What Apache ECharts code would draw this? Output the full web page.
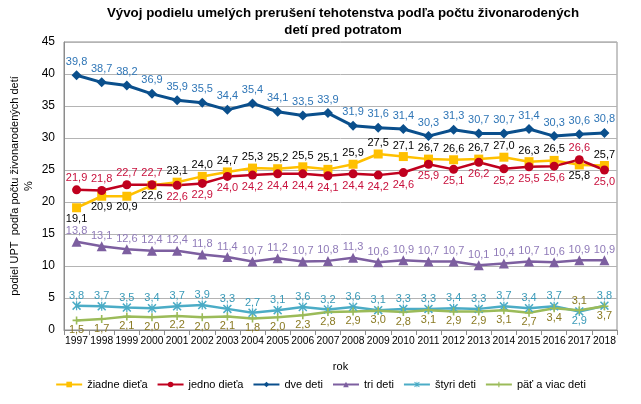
<!DOCTYPE html>
<html><head><meta charset="utf-8">
<script src="https://cdn.jsdelivr.net/npm/echarts@6/dist/echarts.min.js"></script>
<style>html,body{margin:0;padding:0;background:#fff}#c{width:641px;height:404px}</style>
</head><body><div id="c"></div>
<script>
const years = ['1997','1998','1999','2000','2001','2002','2003','2004','2005','2006','2007','2008','2009','2010','2011','2012','2013','2014','2015','2016','2017','2018'];
const ziadne = [19.1,20.9,20.9,22.6,23.1,24.0,24.7,25.3,25.2,25.5,25.1,25.9,27.5,27.1,26.7,26.6,26.7,27.0,26.3,26.5,25.8,25.7];
const jedno  = [21.9,21.8,22.7,22.7,22.6,22.9,24.0,24.2,24.4,24.4,24.1,24.4,24.2,24.6,25.9,25.1,26.2,25.2,25.5,25.6,26.6,25.0];
const dve    = [39.8,38.7,38.2,36.9,35.9,35.5,34.4,35.4,34.1,33.5,33.9,31.9,31.6,31.4,30.3,31.3,30.7,30.7,31.4,30.3,30.6,30.8];
const tri    = [13.8,13.1,12.6,12.4,12.4,11.8,11.4,10.7,11.2,10.7,10.8,11.3,10.6,10.9,10.7,10.7,10.1,10.4,10.7,10.6,10.9,10.9];
const styri  = [3.8,3.7,3.5,3.4,3.7,3.9,3.3,2.7,3.1,3.6,3.2,3.6,3.1,3.3,3.3,3.4,3.3,3.7,3.4,3.7,2.9,3.8];
const pat    = [1.5,1.7,2.1,2.0,2.2,2.0,2.1,1.8,2.0,2.3,2.8,2.9,3.0,2.8,3.1,2.9,2.9,3.1,2.7,3.4,3.1,3.7];

// label placement (style only): 't' = top, 'b' = bottom, one char per year
const posZiadne = 'bbbbttttttttttttttttbt';
const posJedno  = 'ttttbbbbbbbbbbbbbbbbtb';
const posDve    = 'tttttttttttttttttttttt';
const posTri    = 'tttttttttttttttttttttt';
const posStyri  = 'ttttttttttttttttttttbt';
const posPat    = 'bbbbbbbbbbbbbbbbbbbbtb';

const fmt = v => v.toFixed(1).replace('.', ',');
const FONT = 'Liberation Sans, Arial, sans-serif';

function mk(name, vals, color, labelColor, symbol, size, pos, lw, dist) {
  return {
    name, type: 'line',
    data: vals.map((v,i)=>({value: v, label: {position: pos[i]==='b'?'bottom':'top'}})),
    symbol, symbolSize: size,
    lineStyle: {color, width: lw},
    itemStyle: {color},
    label: {show: true, formatter: p => fmt(p.value), color: labelColor, fontSize: 11, fontFamily: FONT, distance: dist},
    z: 3
  };
}

const xStar = 'path://M0,1.2L1.2,0L5,3.8L8.8,0L10,1.2L6.2,5L10,8.8L8.8,10L5,6.2L1.2,10L0,8.8L3.8,5Z M4.3,0H5.7V10H4.3Z';
const plus = 'path://M4,0H6V4H10V6H6V10H4V6H0V4H4Z';

const chart = echarts.init(document.getElementById('c'), null, {renderer: 'canvas'});
chart.setOption({
  animation: false,
  backgroundColor: '#fff',
  title: {
    text: 'Vývoj podielu umelých prerušení tehotenstva podľa počtu živonarodených\ndetí pred potratom',
    left: 338, top: 0, textAlign: 'center',
    textStyle: {fontSize: 13.3, fontWeight: 'bold', fontFamily: FONT, color: '#000', lineHeight: 17}
  },
  grid: {left: 64, right: 24, top: 42, bottom: 74, show: true, borderColor: '#8c8c8c', borderWidth: 1},
  xAxis: {
    type: 'category', data: years, boundaryGap: true,
    name: 'rok', nameLocation: 'middle', nameGap: 31,
    nameTextStyle: {fontSize: 11, fontFamily: FONT, color: '#000'},
    axisLine: {lineStyle: {color: '#8c8c8c'}},
    axisTick: {show: true, length: 5, lineStyle: {color: '#8c8c8c'}},
    axisLabel: {fontSize: 10.3, fontFamily: FONT, color: '#000', interval: 0, margin: 6}
  },
  yAxis: {
    type: 'value', min: 0, max: 45, interval: 5,
    axisLine: {show: true, lineStyle: {color: '#8c8c8c'}},
    axisTick: {show: false},
    axisLabel: {fontSize: 12, fontFamily: FONT, color: '#000', margin: 9},
    splitLine: {lineStyle: {color: '#b4b4b4'}}
  },
  graphic: [{
    type: 'text', x: 22, y: 186, rotation: Math.PI/2,
    style: {text: 'podiel UPT  podľa počtu živonarodených detí\n%', fontSize: 11, fontFamily: FONT, fill: '#000',
            align: 'center', verticalAlign: 'middle', lineHeight: 14}
  }],
  legend: {
    bottom: 9, left: 'center', itemWidth: 26, itemHeight: 7, itemGap: 9,
    textStyle: {fontSize: 11, fontFamily: FONT, color: '#000'},
    data: ['žiadne dieťa','jedno dieťa','dve deti','tri deti','štyri deti','päť a viac deti']
  },
  series: [
    mk('žiadne dieťa', ziadne, '#FFC000', '#000', 'rect', 9, posZiadne, 2.5, 1),
    mk('jedno dieťa', jedno, '#C0001E', '#C8103C', 'circle', 9, posJedno, 2.5, 2),
    mk('dve deti', dve, '#0A4F8C', '#2E75B6', 'diamond', 10, posDve, 3, 3),
    mk('tri deti', tri, '#7D5FA0', '#8F7AB8', 'triangle', 10, posTri, 2.5, 0),
    mk('štyri deti', styri, '#4BACC6', '#3A9AB8', xStar, 9, posStyri, 2.5, 0),
    mk('päť a viac deti', pat, '#9BBB59', '#8A7A22', plus, 8, posPat, 2.5, 0)
  ]
});
</script></body></html>
